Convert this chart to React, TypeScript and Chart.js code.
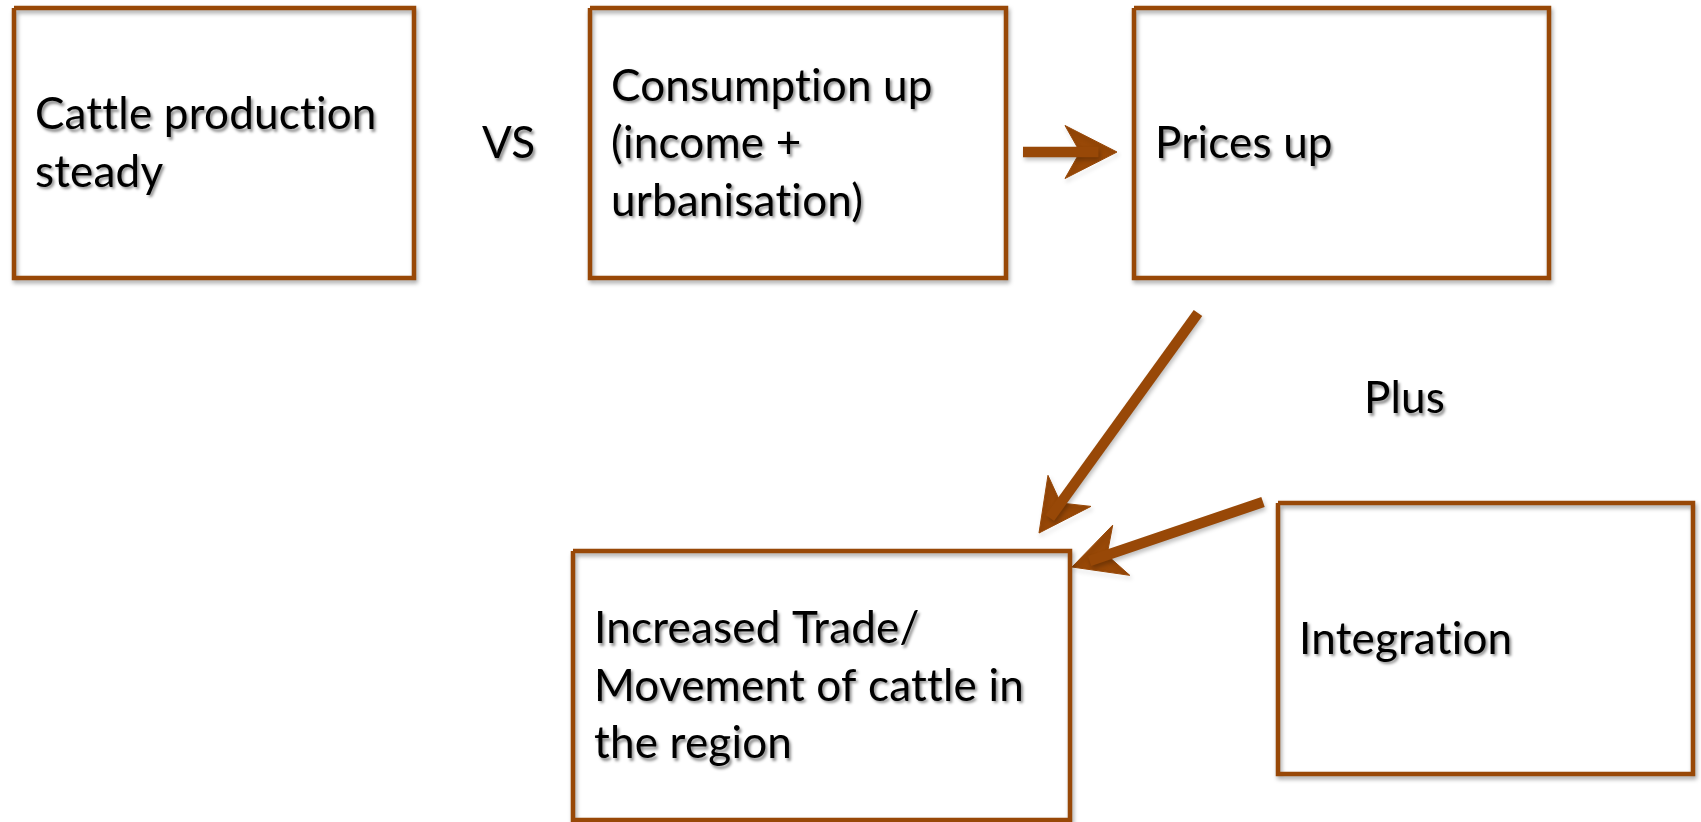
import React, { useEffect, useRef } from "react";
import { Chart, registerables } from "chart.js";
Chart.register(...registerables);

const W = 1701;
const H = 822;

// Node boxes (diagram coordinates, y downwards)
const boxLabels: string[][] = [
  ["Cattle production", "steady"],
  ["Consumption up", "(income +", "urbanisation)"],
  ["Prices up"],
  ["Increased Trade/", "Movement of cattle in", "the region"],
  ["Integration"],
];
const boxLeft = [14, 590, 1134, 573, 1278];
const boxTop = [8, 8, 8, 551, 503];
const boxRight = [414, 1006, 1549, 1070, 1693];
const boxBottom = [278, 278, 278, 820, 774];

// Free-standing words
const freeLabels = ["VS", "Plus"];
const freeLabelX = [482, 1364];
const freeLabelY = [158, 413];

// Arrows (start -> tip)
const arrowFromX = [1023, 1198, 1263];
const arrowFromY = [152, 313, 502];
const arrowToX = [1117, 1039, 1072];
const arrowToY = [152, 533, 567];

const BROWN = "#984807";
const FONT_PX = 44;
const LINE_H = 57.5;
const CAP = 30;
const INSET = 21;

function headPoints(i: number) {
  const x0 = arrowFromX[i], y0 = arrowFromY[i], x1 = arrowToX[i], y1 = arrowToY[i];
  const dx = x1 - x0, dy = y1 - y0;
  const len = Math.hypot(dx, dy);
  const ux = dx / len, uy = dy / len;
  const px = -uy, py = ux;
  const back = 52, half = 26.5, notch = 37;
  const bx = x1 - ux * back, by = y1 - uy * back;
  return {
    tip: { x: x1, y: y1 },
    c1: { x: bx + px * half, y: by + py * half },
    c2: { x: bx - px * half, y: by - py * half },
    n: { x: x1 - ux * notch, y: y1 - uy * notch },
  };
}

export default function App() {
  const ref = useRef<HTMLCanvasElement | null>(null);
  useEffect(() => {
    document.body.style.margin = "0";
    const canvas = ref.current!;
    const datasets: any[] = [];
    boxLabels.forEach((_, i) => {
      const l = boxLeft[i], t = boxTop[i], r = boxRight[i], b = boxBottom[i];
      datasets.push({
        type: "line",
        data: [
          { x: l, y: t }, { x: r, y: t }, { x: r, y: b }, { x: l, y: b }, { x: l, y: t },
        ],
        borderColor: BROWN,
        backgroundColor: "#ffffff",
        fill: "shape",
        borderWidth: 4.5,
        borderJoinStyle: "miter",
        pointRadius: 0,
        tension: 0,
        clip: false,
        _shadow: "box",
      });
    });
    arrowFromX.forEach((_, i) => {
      const h = headPoints(i);
      datasets.push({
        type: "line",
        data: [{ x: arrowFromX[i], y: arrowFromY[i] }, { x: (h.n.x + h.tip.x) / 2, y: (h.n.y + h.tip.y) / 2 }],
        borderColor: BROWN,
        borderWidth: 10.5,
        borderCapStyle: "butt",
        pointRadius: 0,
        fill: false,
        clip: false,
        _shadow: "arrow",
      });
      datasets.push({
        type: "line",
        data: [h.tip, h.c1, h.n, h.c2, h.tip],
        borderColor: BROWN,
        backgroundColor: BROWN,
        borderWidth: 1,
        fill: "shape",
        pointRadius: 0,
        tension: 0,
        clip: false,
        _shadow: "arrow",
      });
    });

    const shadowPlugin = {
      id: "shadows",
      beforeDatasetDraw(chart: any, args: any) {
        const ctx = chart.ctx;
        const ds = chart.data.datasets[args.index];
        ctx.save();
        ctx.shadowColor = ds._shadow === "box" ? "rgba(0,0,0,0.35)" : "rgba(0,0,0,0.25)";
        ctx.shadowBlur = 4;
        ctx.shadowOffsetX = 1.5;
        ctx.shadowOffsetY = 3;
      },
      afterDatasetDraw(chart: any) {
        chart.ctx.restore();
      },
    };

    const textPlugin = {
      id: "texts",
      afterDatasetsDraw(chart: any) {
        const ctx = chart.ctx;
        const xs = chart.scales.x, ys = chart.scales.y;
        ctx.save();
        ctx.font = `${FONT_PX}px Lato, "Open Sans", sans-serif`;
        try { (ctx as any).letterSpacing = "0.2px"; } catch (e) {}
        ctx.fillStyle = "#000000";
        ctx.textAlign = "left";
        ctx.textBaseline = "alphabetic";
        ctx.shadowColor = "rgba(0,0,0,0.45)";
        ctx.shadowBlur = 3;
        ctx.shadowOffsetX = 2;
        ctx.shadowOffsetY = 2.5;
        boxLabels.forEach((lines, i) => {
          const cy = (boxTop[i] + boxBottom[i]) / 2;
          const first = cy - ((lines.length - 1) * LINE_H) / 2 + CAP / 2;
          lines.forEach((s, k) => {
            ctx.fillText(s, xs.getPixelForValue(boxLeft[i] + INSET), ys.getPixelForValue(first + k * LINE_H));
          });
        });
        freeLabels.forEach((s, i) => {
          ctx.fillText(s, xs.getPixelForValue(freeLabelX[i]), ys.getPixelForValue(freeLabelY[i]));
        });
        ctx.restore();
      },
    };

    const chart = new Chart(canvas, {
      type: "scatter",
      data: { datasets },
      options: {
        animation: false,
        responsive: false,
        devicePixelRatio: 1,
        layout: { padding: 0 },
        plugins: { legend: { display: false }, tooltip: { enabled: false } },
        events: [],
        scales: {
          x: { type: "linear", min: 0, max: W, display: false },
          y: { type: "linear", min: 0, max: H, reverse: true, display: false },
        },
      } as any,
      plugins: [shadowPlugin, textPlugin],
    });
    return () => chart.destroy();
  }, []);
  return (
    <div style={{ position: "absolute", left: 0, top: 0, width: W, height: H, background: "#fff" }}>
      <canvas ref={ref} width={W} height={H} style={{ display: "block", width: W, height: H }} />
    </div>
  );
}
